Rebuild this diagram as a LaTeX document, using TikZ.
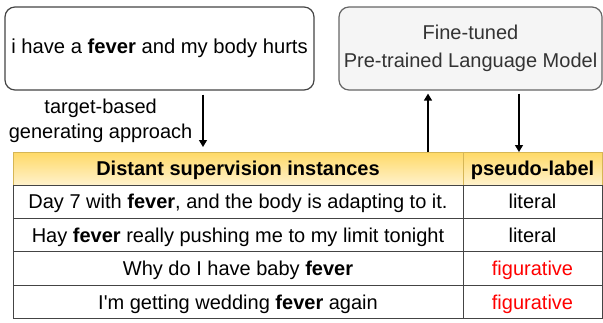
\documentclass[tikz,border=0pt]{standalone}
\usepackage{fontspec}
\setmainfont{Liberation Sans}
\usetikzlibrary{arrows.meta, positioning, calc}
\definecolor{hdtop}{HTML}{FFD966}
\definecolor{hdbot}{HTML}{FFF2CC}
\definecolor{hdline}{HTML}{D6B656}
\definecolor{plmfill}{HTML}{F5F5F5}
\definecolor{plmline}{HTML}{666666}
\definecolor{plmtext}{HTML}{333333}
\definecolor{rowline}{HTML}{444444}
\definecolor{figred}{HTML}{FF0000}

\begin{document}
\begin{tikzpicture}[x=0.5pt, y=-0.5pt,
    inbox/.style={rectangle, rounded corners=5pt, draw=rowline, line width=0.6pt,
                  minimum width=154.5pt, minimum height=41.5pt, align=center, inner sep=2pt,
                  font=\fontsize{10.1}{13}\selectfont},
    plmbox/.style={rectangle, rounded corners=5pt, draw=plmline, fill=plmfill, line width=0.6pt,
                   minimum width=131.5pt, minimum height=41.5pt, align=center, text=plmtext,
                   inner sep=2pt, font=\fontsize{10}{14}\selectfont},
    hdcell/.style={rectangle, draw=hdline, line width=0.5pt, top color=hdtop, bottom color=hdbot,
                   minimum height=16.5pt, inner sep=0pt, outer sep=0pt,
                   text height=7.2pt, text depth=0pt, font=\fontsize{10}{12.5}\selectfont},
    cell/.style={rectangle, draw=rowline, line width=0.5pt, fill=white,
                 minimum height=16.7pt, inner sep=0pt, outer sep=0pt,
                 text height=7.2pt, text depth=0pt, font=\fontsize{10}{12.5}\selectfont},
    flow/.style={-{Triangle[length=3.5pt, width=4pt]}, line width=0.65pt}]

    \useasboundingbox (0,0) rectangle (603,322);

    % Top boxes
    \node[inbox] (sent) at (159.5, 48.5) {i have a \textbf{fever} and my body hurts};
    \node[plmbox] (plm) at (470.5, 48.5) {Fine-tuned\\Pre-trained Language Model};

    % Table
    \node[hdcell, minimum width=225pt] (hd1) at (238, 168.5) {\textbf{Distant supervision instances}};
    \node[hdcell, minimum width=69.5pt, right=0pt of hd1] (hd2) {\textbf{pseudo-label}};
    \node[cell, minimum width=225pt, below=0pt of hd1] (s1) {Day 7 with \textbf{fever}, and the body is adapting to it.};
    \node[cell, minimum width=69.5pt, below=0pt of hd2] (l1) {literal};
    \node[cell, minimum width=225pt, below=0pt of s1] (s2) {Hay \textbf{fever} really pushing me to my limit tonight};
    \node[cell, minimum width=69.5pt, below=0pt of l1] (l2) {literal};
    \node[cell, minimum width=225pt, below=0pt of s2] (s3) {Why do I have baby \textbf{fever}};
    \node[cell, minimum width=69.5pt, below=0pt of l2, text=figred] (l3) {figurative};
    \node[cell, minimum width=225pt, below=0pt of s3] (s4) {I\textquotesingle m getting wedding \textbf{fever} again};
    \node[cell, minimum width=69.5pt, below=0pt of l3, text=figred] (l4) {figurative};

    % Connections
    \draw[flow, shorten <=2pt, shorten >=2.5pt] ([xshift=21.75pt]sent.south) -- ([xshift=21.75pt]sent.south |- hd1.north)
        node[midway, left=5pt, inner sep=0pt, align=center, font=\fontsize{10}{12.5}\selectfont] (gen) {target-based\\generating approach};
    \draw[flow, shorten >=1.5pt] ([xshift=-21.25pt]plm.south |- hd2.north) -- ([xshift=-21.25pt]plm.south);
    \draw[flow, shorten <=1.5pt] ([xshift=24.25pt]plm.south) -- ([xshift=24.25pt]plm.south |- hd2.north);
\end{tikzpicture}
\end{document}
